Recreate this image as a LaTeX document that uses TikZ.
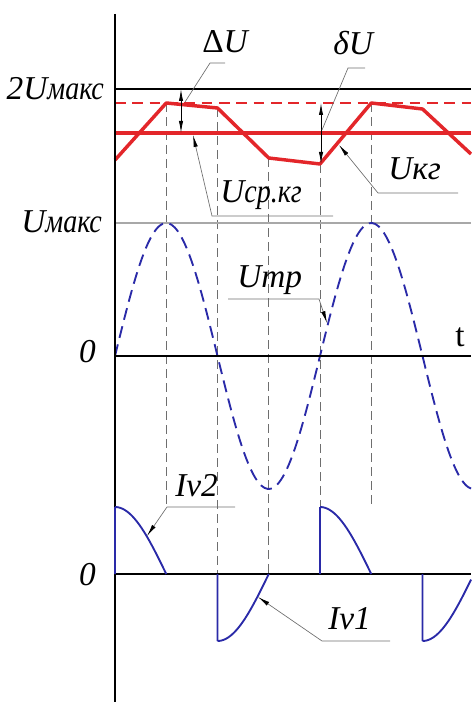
\documentclass[tikz,border=0pt]{standalone}
\usepackage{fontspec}
\setmainfont{Liberation Serif}
\usetikzlibrary{arrows.meta,positioning}
\definecolor{WaveRed}{HTML}{E3262A}
\definecolor{WaveBlue}{HTML}{2A2AA8}
\definecolor{WaveGray}{HTML}{6E6E6E}
\definecolor{WaveSoftGray}{HTML}{A8A8A8}
\newcommand{\narrowsub}[1]{\scalebox{0.84}[1]{#1}}

\begin{document}
\begin{tikzpicture}[
      x=0.75pt, y=-0.75pt,
      axis/.style={line width=1.5pt, draw=black},
      guide/.style={line width=0.6pt, draw=WaveGray, dash pattern=on 6.5pt off 4pt},
      leader/.style={line width=0.5pt, draw=WaveGray, -{Latex[length=9pt,width=3.2pt,black]}},
      plainleader/.style={line width=0.5pt, draw=WaveGray},
      dimline/.style={line width=0.6pt, draw=black,
        {Latex[length=9pt,width=3.2pt]}-{Latex[length=9pt,width=3.2pt]}},
      current/.style={line width=1.4pt, draw=WaveBlue},
      lbl/.style={inner sep=0pt, font=\fontsize{25}{28}\selectfont\itshape}
    ]
    \useasboundingbox (0,0) rectangle (471,702);

    % timing guides
    \draw[guide] (166.25,103) -- (166.25,507);
    \draw[guide] (217.5,108) -- (217.5,574);
    \draw[guide] (268.75,158) -- (268.75,574);
    \draw[guide] (320,164) -- (320,507);
    \draw[guide] (371.25,103) -- (371.25,507);

    % levels
    \draw[line width=1.1pt, draw=WaveSoftGray] (115,223) -- (471,223);
    \draw[line width=1.1pt] (115,89) -- (471,89);
    \draw[line width=1.5pt, draw=WaveRed, dash pattern=on 8pt off 5pt] (115,103) -- (471,103);
    \draw[line width=2.3pt, draw=WaveRed] (115,133) -- (471,133);
    \draw[line width=2.6pt, draw=WaveRed, line join=round]
      (115,160) -- (166.25,103) -- (217.5,108) -- (268.75,158) -- (320,164)
      -- (371.25,103) -- (422.5,109) -- (471,154);

    % transformer voltage
    \draw[line width=1.4pt, draw=WaveBlue, dash pattern=on 9pt off 5pt]
      plot[domain=115:471, samples=120, smooth] (\x, {356-133*sin(1.7561*(\x-115))});

    % axes
    \draw[axis] (115,14) -- (115,702);
    \draw[axis] (115,356) -- (471,356);
    \draw[axis] (115,574) -- (471,574);

    % diode currents
    \draw[current] (115,574) -- (115,507)
      plot[domain=0:90, samples=30] ({115+51.25*\x/90}, {574-67*cos(\x)});
    \draw[current] (320,574) -- (320,507)
      plot[domain=0:90, samples=30] ({320+51.25*\x/90}, {574-67*cos(\x)});
    \draw[current] (217.5,574) -- (217.5,641)
      plot[domain=0:90, samples=30] ({217.5+51.25*\x/90}, {574+67*cos(\x)});
    \draw[current] (422.5,574) -- (422.5,641)
      plot[domain=0:85.2, samples=30] ({422.5+51.25*\x/90}, {574+67*cos(\x)});

    % ripple dimensions
    \coordinate (dUtop) at (181,89);
    \coordinate (dUbot) at (181,133);
    \coordinate (duTop) at (321,103);
    \coordinate (duBot) at (321,164);
    \draw[dimline] (dUtop) -- (dUbot);
    \draw[dimline] (duTop) -- (duBot);

    % labels
    \node[lbl, anchor=base east] (twoumax) at (104,100) {2U\narrowsub{макс}};
    \node[lbl, anchor=base east] (umax) at (102,233) {U\narrowsub{макс}};
    \node[lbl, anchor=base east] (zerou) at (96,362) {0};
    \node[lbl, anchor=base east] (zeroi) at (96,585) {0};
    \node[inner sep=0pt, font=\fontsize{25}{28}\selectfont, anchor=base west] (tlbl) at (455,346) {t};
    \node[lbl, anchor=base west] (deltaU) at (202,53) {{\upshape Δ}U};
    \node[lbl, anchor=base west] (deltau) at (333,55) {δU};
    \node[lbl, anchor=base west] (ucpkg) at (220,203) {U\narrowsub{ср.кг}};
    \node[lbl, anchor=base west] (ukg) at (388,180) {Uкг};
    \node[lbl, anchor=base west] (utr) at (237,287) {Uтр};
    \node[lbl, anchor=base west] (iv2) at (175,496) {Iv2};
    \node[lbl, anchor=base west] (iv1) at (328,629) {Iv1};

    % leaders
    \coordinate (dUend) at (225,63);
    \coordinate (dUknee) at (210,63);
    \coordinate (dUtip) at (185,102);
    \draw[plainleader] (dUend) -- (dUknee) -- (dUtip);

    \coordinate (duEnd) at (365,68);
    \coordinate (duKnee) at (348,68);
    \coordinate (duTip) at (322,130);
    \draw[plainleader] (duEnd) -- (duKnee) -- (duTip);

    \coordinate (ucpEnd) at (333,216);
    \coordinate (ucpKnee) at (212,216);
    \coordinate (ucpTip) at (193,135);
    \draw[leader] (ucpEnd) -- (ucpKnee) -- (ucpTip);

    \coordinate (ukgEnd) at (458,193);
    \coordinate (ukgKnee) at (378,193);
    \coordinate (ukgTip) at (339,145);
    \draw[leader] (ukgEnd) -- (ukgKnee) -- (ukgTip);

    \coordinate (utrEnd) at (228,299);
    \coordinate (utrKnee) at (319,299);
    \coordinate (utrTip) at (327,323);
    \draw[leader] (utrEnd) -- (utrKnee) -- (utrTip);

    \coordinate (iv2End) at (235,507);
    \coordinate (iv2Knee) at (167,507);
    \coordinate (iv2Tip) at (147,536);
    \draw[leader] (iv2End) -- (iv2Knee) -- (iv2Tip);

    \coordinate (iv1End) at (390,641);
    \coordinate (iv1Knee) at (322,641);
    \coordinate (iv1Tip) at (258,597);
    \draw[leader] (iv1End) -- (iv1Knee) -- (iv1Tip);
  \end{tikzpicture}
\end{document}
